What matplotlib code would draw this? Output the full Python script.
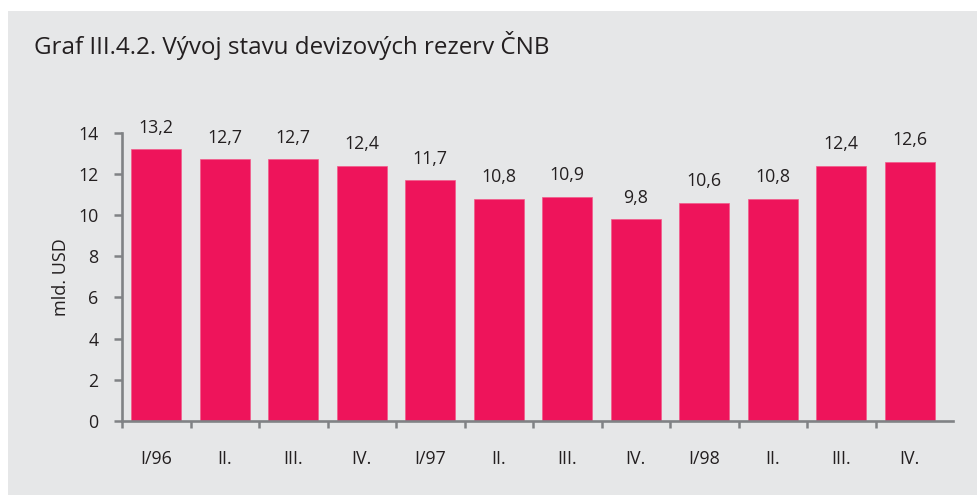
import matplotlib
matplotlib.use("Agg")
import matplotlib.pyplot as plt
from matplotlib.patches import Rectangle
import numpy as np

categories = ["I/96", "II.", "III.", "IV.", "I/97", "II.", "III.", "IV.", "I/98", "II.", "III.", "IV."]
values = [13.2, 12.7, 12.7, 12.4, 11.7, 10.8, 10.9, 9.8, 10.6, 10.8, 12.4, 12.6]
yticks = [0, 2, 4, 6, 8, 10, 12, 14]
title = "Graf III.4.2. Vývoj stavu devizových rezerv ČNB"
ylabel = "mld. USD"

plt.rcParams['font.family'] = ['Open Sans', 'DejaVu Sans']
txt = '#231f20'
grey_bg = '#e6e7e8'
bar_col = '#ee145b'
spine_col = '#808285'

W, H = 978, 495
fig = plt.figure(figsize=(W/100, H/100), dpi=100)
fig.patch.set_facecolor('white')
fig.add_artist(Rectangle((8/W, 0), 1 - 8/W, (H - 10.7)/H, transform=fig.transFigure,
                         facecolor=grey_bg, edgecolor='none', zorder=0))

left, right = 122/W, 952.5/W
bottom = (H - 421)/H
top = (H - 132.7)/H
ax = fig.add_axes([left, bottom, right - left, top - bottom])
ax.set_facecolor('none')

n = len(values)
x = np.arange(n)
fs = 12.8
ax.bar(x, values, width=0.727, color=bar_col, edgecolor='#f25a8a', linewidth=0.5, zorder=2)
for xi, v in zip(x, values):
    ax.annotate(f"{v:.1f}".replace('.', ','), (xi, v), xytext=(0, 9), textcoords='offset points',
                ha='center', va='bottom', fontsize=fs, color=txt)

ax.set_xlim(-0.5, n - 0.5 + 8.4/68.4)
ax.set_ylim(0, 14)
ax.set_yticks(yticks)
ax.set_yticklabels([str(t) for t in yticks])
ax.set_xticks(x - 0.5)
ax.set_xticklabels([])
ax.set_xticks(x, minor=True)
ax.set_xticklabels(categories, minor=True)
ax.tick_params(axis='x', which='major', direction='out', length=5, width=1.8, color=spine_col)
ax.tick_params(axis='x', which='minor', length=0, pad=21, labelsize=fs, labelcolor=txt)
ax.tick_params(axis='y', direction='out', length=5.5, width=1.8, color=spine_col,
               pad=11.5, labelsize=fs, labelcolor=txt)

for s in ['top', 'right']:
    ax.spines[s].set_visible(False)
for s in ['left', 'bottom']:
    ax.spines[s].set_color(spine_col)
    ax.spines[s].set_linewidth(1.9)

fig.text(34/W, 1 - 46/H, title, fontsize=17.4, color=txt, ha='left', va='center')
fig.text(61/W, 1 - 277/H, ylabel, fontsize=13, color=txt, rotation=90, ha='center', va='center')

fig.savefig('out.png', dpi=100, facecolor=fig.get_facecolor())
